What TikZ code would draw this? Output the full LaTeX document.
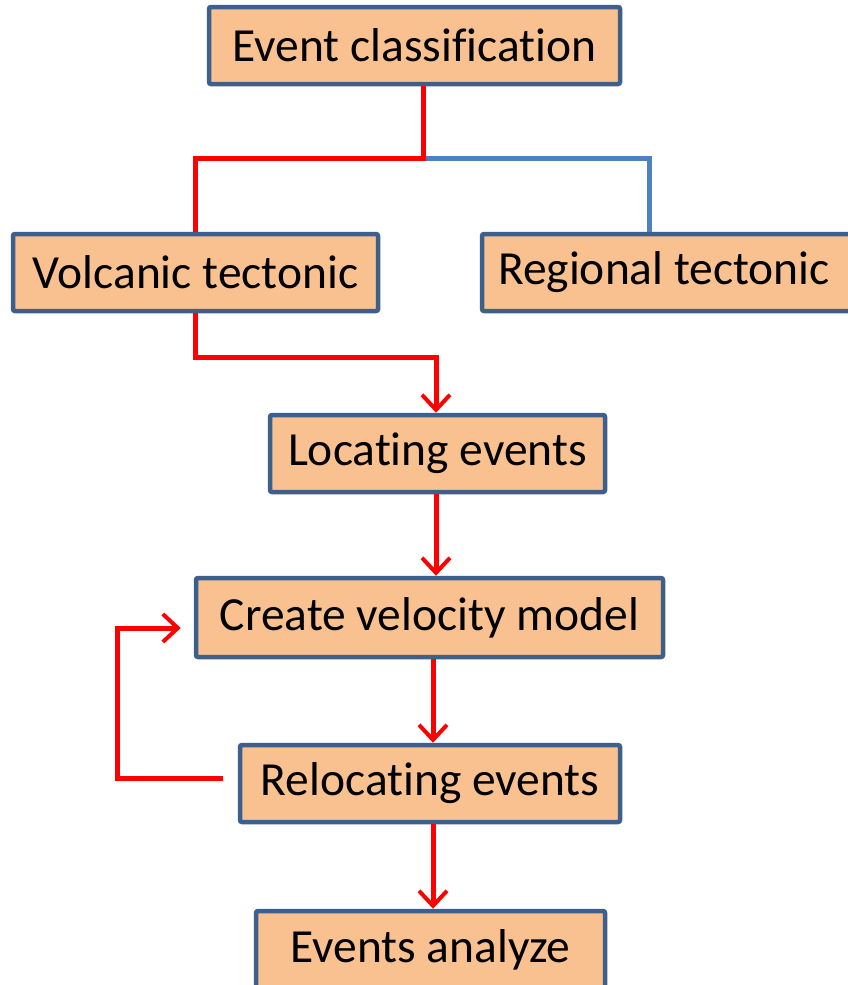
\documentclass[tikz,border=0pt]{standalone}
\usepackage{fontspec}
\setmainfont[Ligatures=CommonOff]{Carlito}
\usetikzlibrary{arrows.meta,calc}
\definecolor{boxfill}{HTML}{F9C090}
\definecolor{boxdraw}{HTML}{3D5F8C}
\definecolor{lineblue}{HTML}{4F81BD}
\definecolor{linered}{HTML}{FF0000}
\tikzset{
  stepbox/.style={draw=boxdraw, fill=boxfill, line width=4.5pt, rounded corners=2pt,
    inner sep=0pt, minimum height=77pt, font=\fontsize{47.5}{56}\selectfont, text=black},
  redline/.style={draw=linered, line width=5pt},
  blueline/.style={draw=lineblue, line width=5pt},
  redarrow/.style={redline, -{Straight Barb[length=15pt,width=28pt,line width=4pt]}},
}
\begin{document}
\begin{tikzpicture}[x=1pt,y=-1pt]
\useasboundingbox (0,0) rectangle (848,985);
\clip (0,0) rectangle (848,985);
\node[stepbox, minimum width=411pt] (ec) at (414.5,45.5) {\raisebox{-3pt}{Event classification}};
\node[stepbox, minimum width=365pt] (vt) at (195.5,272.5) {\raisebox{-3pt}{Volcanic tectonic}};
\node[stepbox, minimum width=374pt] (rt) at (669,272.5) {\hspace*{-10pt}\raisebox{-4pt}{Regional tectonic}};
\node[stepbox, minimum width=335pt] (le) at (437.5,453.5) {\raisebox{-3pt}{Locating events}};
\node[stepbox, minimum width=467pt, minimum height=79pt] (cv) at (429.5,617.5) {\raisebox{-3pt}{Create velocity model}};
\node[stepbox, minimum width=380pt] (re) at (430,783.5) {\raisebox{-3pt}{Relocating events}};
\node[stepbox, minimum width=349pt] (ea) at (430.5,949.5) {\raisebox{-3pt}{Events analyze}};
\coordinate (j) at (423,158);
\draw[blueline] (j) -| ([xshift=-20pt]rt.north);
\draw[redline] (ec.south -| j) -- (j) -| (vt.north);
\draw[redarrow] (vt.south) -- ++(0,44) -| ([xshift=-1.5pt]le.north);
\draw[redarrow] ([xshift=-1.5pt]le.south) -- ([xshift=6.5pt]cv.north);
\draw[redarrow] ([xshift=3.5pt]cv.south) -- ([xshift=3pt]re.north);
\draw[redarrow] ([xshift=3pt]re.south) -- ([xshift=2.5pt]ea.north);
\draw[redarrow] ([xshift=-15pt,yshift=5.5pt]re.west) -- ++(-105,0) |- ([xshift=-13pt,yshift=-10.5pt]cv.west);
\end{tikzpicture}
\end{document}
